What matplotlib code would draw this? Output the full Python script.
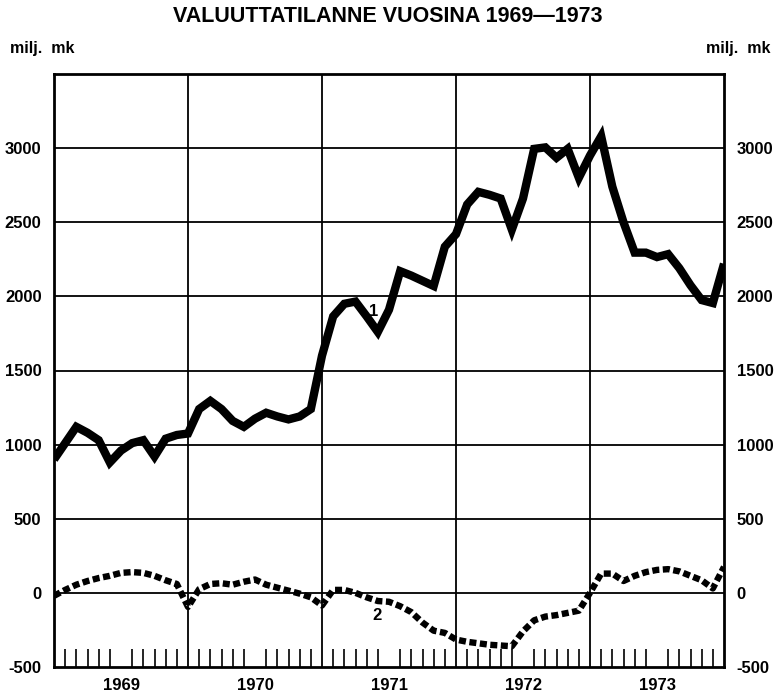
import matplotlib
matplotlib.use("Agg")
import matplotlib.pyplot as plt

plt.rcParams['font.family'] = ['Liberation Sans', 'DejaVu Sans']

# month index 0 = end of 1968 ... 60 = end of 1973
months = list(range(61))
years = ["1969", "1970", "1971", "1972", "1973"]

# 1 (thick line), milj. mk
series1 = [900, 1010, 1120, 1080, 1030, 880, 960, 1010, 1030, 920, 1040, 1065,
           1075, 1240, 1295, 1240, 1160, 1120, 1175, 1215, 1190, 1170, 1190, 1240,
           1600, 1865, 1950, 1965, 1865, 1760, 1910, 2170, 2140, 2105, 2070, 2335,
           2420, 2620, 2705, 2685, 2660, 2450, 2660, 2995, 3005, 2935, 2995, 2800,
           2950, 3080, 2740, 2500, 2295, 2295, 2265, 2285, 2190, 2075, 1975, 1955,
           2220]

# 2 (dotted line), milj. mk
series2 = [-20, 20, 55, 80, 100, 115, 135, 140, 135, 115, 85, 60,
           -95, 25, 60, 65, 55, 75, 90, 55, 35, 15, -5, -30,
           -85, 20, 20, 0, -30, -55, -60, -90, -130, -200, -255, -270,
           -315, -330, -340, -350, -355, -360, -260, -185, -160, -150, -135, -120,
           0, 130, 130, 80, 115, 140, 155, 160, 145, 115, 85, 30,
           175]

yticks = [-500, 0, 500, 1000, 1500, 2000, 2500, 3000]

fig = plt.figure(figsize=(7.76, 6.96), dpi=100)
ax = fig.add_axes([54 / 776, 1 - 667 / 696, 670 / 776, 593 / 696])

# grid
for v in yticks[1:]:
    ax.axhline(v, color="black", lw=1.3, zorder=1)
for k in range(1, 5):
    ax.axvline(12 * k, color="black", lw=1.3, zorder=1)

ax.plot(months, series1, color="black", lw=6, solid_joinstyle="miter",
        solid_capstyle="butt", zorder=3)
ax.plot(months, series2, color="black", lw=4.6, linestyle=(0, (1.1, 0.55)),
        dash_capstyle="butt", zorder=3)

ax.text(28.6, 1900, "1", fontsize=12, fontweight="bold", ha="center", va="center")
ax.text(28.9, -150, "2", fontsize=12, fontweight="bold", ha="center", va="center")

ax.set_xlim(0, 60)
ax.set_ylim(-500, 3500)

ax.set_yticks(yticks)
ax.set_yticklabels([str(v) for v in yticks], fontsize=12, fontweight="bold")
ax.tick_params(axis="y", length=0, pad=9, labelleft=True, labelright=True)

ax.set_xticks([6, 18, 30, 42, 54])
ax.set_xticklabels(years, fontsize=12, fontweight="bold")
ax.set_xticks([m for m in range(1, 60) if m % 12 != 0], minor=True)
ax.tick_params(axis="x", which="major", length=0, pad=8)
ax.tick_params(axis="x", which="minor", direction="in", length=13, width=1.2)

for s in ax.spines.values():
    s.set_linewidth(2)

fig.text(0.5, 1 - 17 / 696, "VALUUTTATILANNE VUOSINA 1969\u20141973",
         ha="center", va="center", fontsize=15.5, fontweight="bold")
fig.text(10 / 776, 1 - 48 / 696, "milj.  mk", ha="left", va="center",
         fontsize=11.5, fontweight="bold")
fig.text(770 / 776, 1 - 48 / 696, "milj.  mk", ha="right", va="center",
         fontsize=11.5, fontweight="bold")

fig.savefig("out.png", dpi=100)
